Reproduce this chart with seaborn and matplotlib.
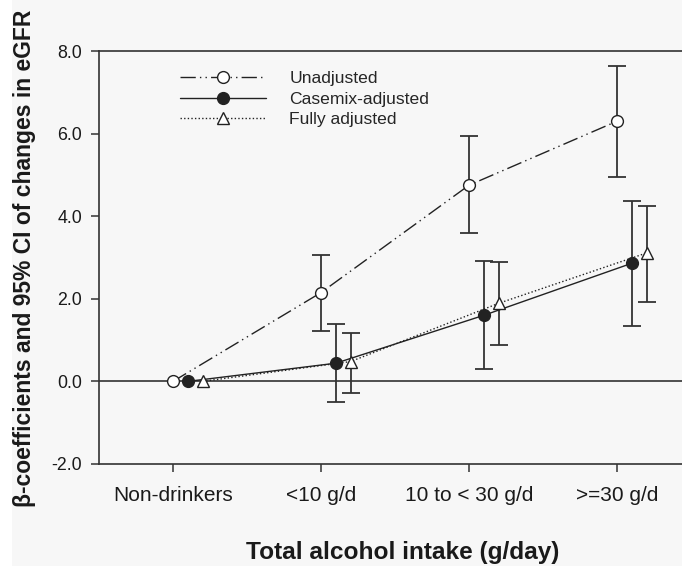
import numpy as np
import pandas as pd
import matplotlib
matplotlib.use("Agg")
import matplotlib.pyplot as plt
from matplotlib.patches import Rectangle
import seaborn as sns

# Alcohol intake categories and model estimates (beta coefficients, 95% CI)
categories = ["Non-drinkers", "<10 g/d", "10 to < 30 g/d", ">=30 g/d"]

unadjusted = [0.0, 2.15, 4.75, 6.30]
unadjusted_lo = [np.nan, 1.21, 3.59, 4.95]
unadjusted_hi = [np.nan, 3.07, 5.93, 7.64]

casemix = [0.0, 0.44, 1.60, 2.86]
casemix_lo = [np.nan, -0.51, 0.30, 1.35]
casemix_hi = [np.nan, 1.40, 2.92, 4.36]

fully = [0.0, 0.48, 1.89, 3.11]
fully_lo = [np.nan, -0.28, 0.87, 1.92]
fully_hi = [np.nan, 1.17, 2.88, 4.24]

yticks = [-2.0, 0.0, 2.0, 4.0, 6.0, 8.0]

sns.set_theme(style="white")
plt.rcParams["font.family"] = ["Liberation Sans", "DejaVu Sans"]

W, H = 682, 566
fig = plt.figure(figsize=(W / 100, H / 100), dpi=100)
fig.patch.set_facecolor("white")
fig.add_artist(Rectangle((12 / W, 0), 1, 1, transform=fig.transFigure,
                         facecolor="#f7f7f7", edgecolor="none", zorder=-10))

ax = fig.add_axes([99 / W, 102 / H, 592 / W, 413 / H])
ax.set_facecolor("none")

ink = "#222222"
series = [
    ("Unadjusted", unadjusted, unadjusted_lo, unadjusted_hi, 0.0,
     (0, (11, 3, 1, 3, 1, 3)), "o", "white"),
    ("Casemix-adjusted", casemix, casemix_lo, casemix_hi, 0.1,
     "-", "o", ink),
    ("Fully adjusted", fully, fully_lo, fully_hi, 0.2,
     (0, (1, 1.6)), "^", "white"),
]

base = np.arange(len(categories))
for name, vals, lo, hi, off, ls, mk, mfc in series:
    x = base + off
    df = pd.DataFrame({"pos": x, "value": vals})
    vals_a = np.array(vals)
    err = np.vstack([vals_a - np.array(lo), np.array(hi) - vals_a])
    ax.errorbar(x, vals_a, yerr=err, fmt="none", ecolor="#333333",
                elinewidth=1.3, capsize=6.5, capthick=1.3, zorder=2)
    sns.lineplot(data=df, x="pos", y="value", ax=ax, estimator=None,
                 sort=False, color=ink, linewidth=1.0, linestyle=ls,
                 marker=mk, markersize=8.5 if mk == "o" else 9,
                 markerfacecolor=mfc, markeredgecolor=ink,
                 markeredgewidth=1.0, label=name, zorder=3)

ax.axhline(0, color="#333333", lw=1.2, zorder=1)

ax.set_xlim(-0.5, 3.5)
ax.set_ylim(-2.0, 8.0)
ax.set_xticks(base)
ax.set_xticklabels(categories, fontsize=15, color="#1a1a1a")
ax.set_yticks(yticks)
ax.set_yticklabels([f"{v:.1f}" for v in yticks], fontsize=12.8, color="#1a1a1a")
ax.tick_params(axis="both", bottom=True, left=True, direction="out",
               length=6, width=1.1, color="#333333")
ax.tick_params(axis="x", pad=10)
ax.tick_params(axis="y", pad=6)
ax.set_xlabel("")
ax.set_ylabel("")

for side in ["left", "top", "bottom"]:
    ax.spines[side].set_visible(True)
    ax.spines[side].set_color("#333333")
    ax.spines[side].set_linewidth(1.2)
ax.spines["right"].set_visible(False)

leg = ax.legend(loc="upper left", bbox_to_anchor=(180 / W, 1 - 71 / H),
                bbox_transform=fig.transFigure, frameon=False,
                fontsize=12.6, handlelength=4.9, handletextpad=1.35,
                labelspacing=0.3, borderpad=0, borderaxespad=0)

fig.text(403 / W, 1 - 552 / H, "Total alcohol intake (g/day)",
         ha="center", va="center", fontsize=17.6, fontweight="bold",
         color="#1a1a1a")
fig.text(25 / W, 1 - 258 / H,
         "\u03b2-coefficients and 95% CI of changes in eGFR",
         ha="center", va="center", rotation=90, fontsize=16.5,
         fontweight="bold", color="#1a1a1a")

fig.savefig("out.png", dpi=100)
